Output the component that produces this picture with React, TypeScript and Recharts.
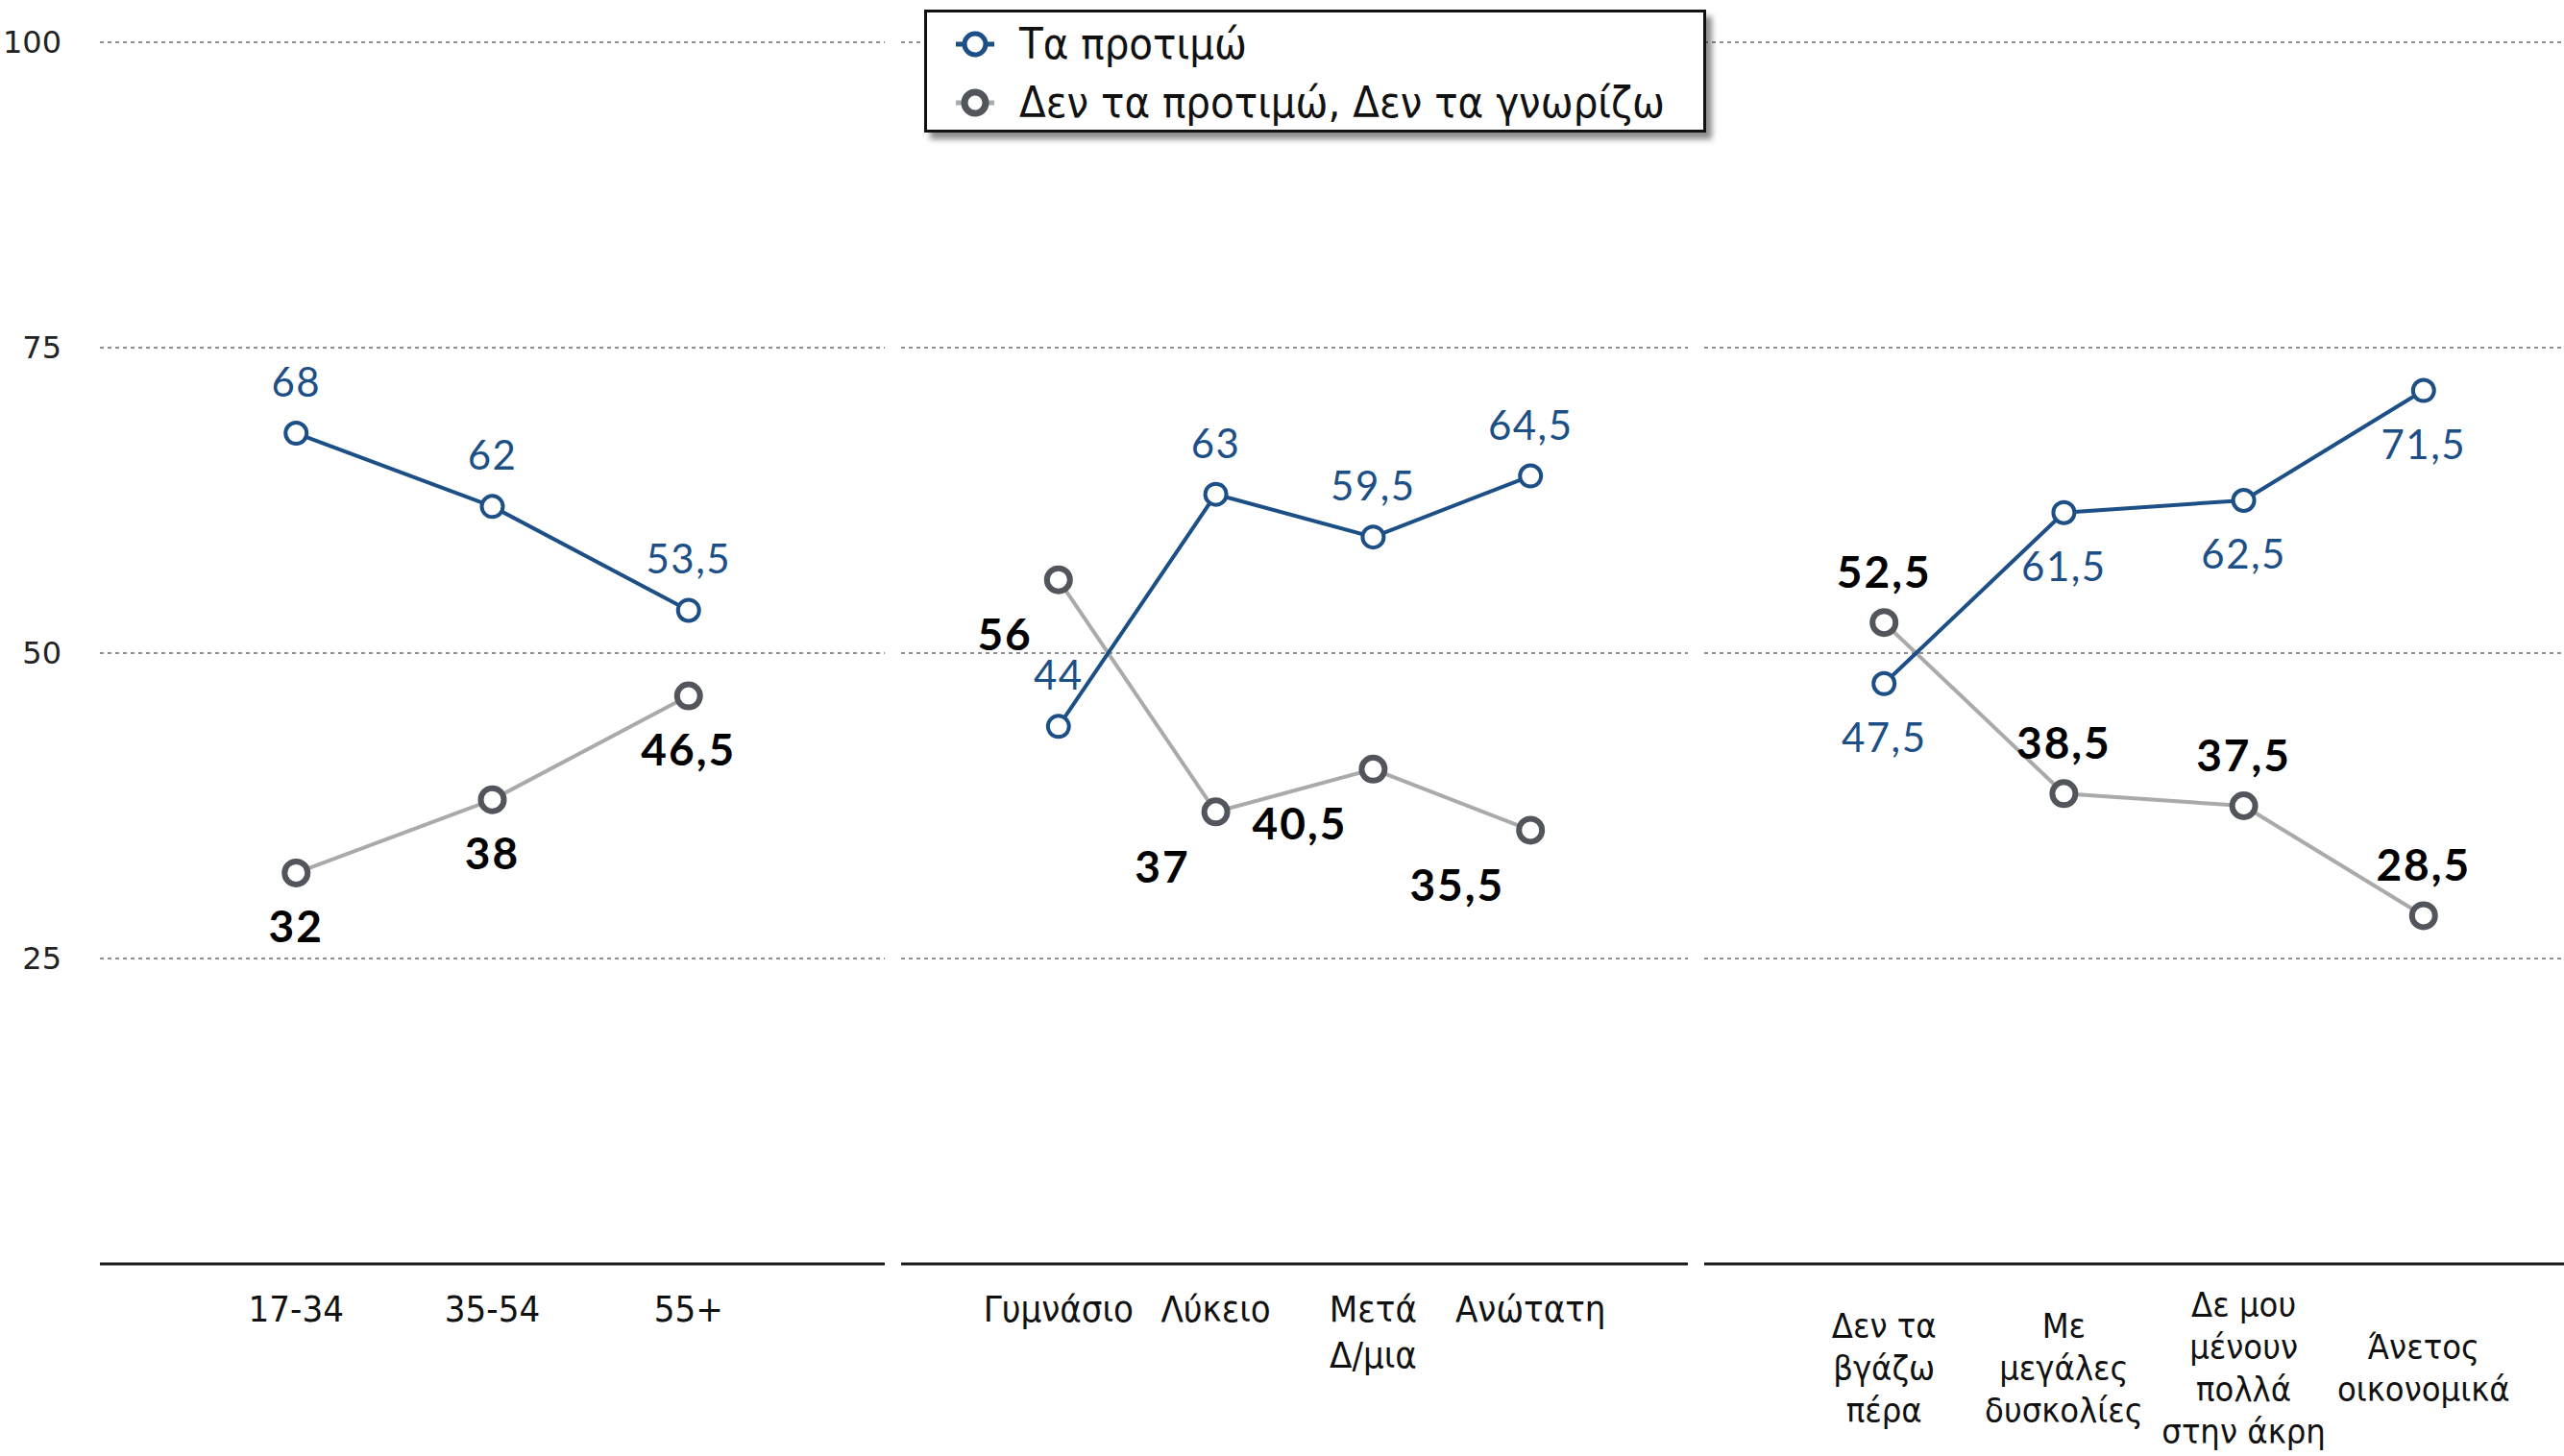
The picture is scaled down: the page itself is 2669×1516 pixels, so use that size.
import { LineChart, Line, XAxis, YAxis, CartesianGrid, LabelList } from 'recharts';

// Ηλικία
const ageCats = ['17-34', '35-54', '55+'];
const agePref = [68, 62, 53.5];
const ageNotPref = [32, 38, 46.5];

// Εκπαίδευση
const eduCats = ['Γυμνάσιο', 'Λύκειο', 'Μετά\nΔ/μια', 'Ανώτατη'];
const eduPref = [44, 63, 59.5, 64.5];
const eduNotPref = [56, 37, 40.5, 35.5];

// Οικονομική κατάσταση
const ecoCats = ['Δεν τα\nβγάζω\nπέρα', 'Με\nμεγάλες\nδυσκολίες', 'Δε μου\nμένουν\nπολλά\nστην άκρη', 'Άνετος\nοικονομικά'];
const ecoPref = [47.5, 61.5, 62.5, 71.5];
const ecoNotPref = [52.5, 38.5, 37.5, 28.5];

const yTicks = [25, 50, 75, 100];
const seriesNames = ['Τα προτιμώ', 'Δεν τα προτιμώ, Δεν τα γνωρίζω'];

const BLUE = '#1d4f87';
const GREY_LINE = '#a9abaa';
const GREY_DOT = '#52565c';
const TEXT_FONT = "'Liberation Sans Narrow', 'DejaVu Sans Condensed', 'Open Sans', sans-serif";
const NUM_FONT = "Lato, 'Open Sans', sans-serif";

const H = 1516;
const AXIS_Y = 1316;

const fmt = (v: number) => String(v).replace('.', ',');

const toRows = (cats: string[], a: number[], b: number[]) =>
  cats.map((c, i) => ({ cat: c, pref: a[i], notPref: b[i] }));

// ετικέτες τιμών
const makeLabel = (place: string, color: string, bold: boolean) => (props: any) => {
  const { x, y, value } = props;
  let tx = x, ty = y, anchor: any = 'middle';
  if (place === 'top') ty = y - 54;
  if (place === 'bottom') ty = y + 55;
  if (place === 'bottomLeft') { tx = x - 27; ty = y + 56; anchor = 'end'; }
  return (
    <text x={tx} y={ty} textAnchor={anchor} dominantBaseline="central"
      fontFamily={NUM_FONT} fontSize={bold ? 46 : 42} fontWeight={bold ? 700 : 400}
      letterSpacing={bold ? 2 : 1.5} fill={color}>
      {fmt(value)}
    </text>
  );
};

const makeTick = (centered: boolean) => (props: any) => {
  const { x, payload } = props;
  const lines = String(payload.value).split('\n');
  const lh = centered ? 44 : 48;
  const start = centered ? AXIS_Y + 108 - ((lines.length - 1) / 2) * lh : AXIS_Y + 47;
  return (
    <text x={x} textAnchor="middle" fontFamily={TEXT_FONT} fontSize={centered ? 36 : 38} fill="#111">
      {lines.map((l, i) => (
        <tspan key={i} x={x} y={start + i * lh} dominantBaseline="central">{l}</tspan>
      ))}
    </text>
  );
};

const YTick = (props: any) => {
  const { y, payload } = props;
  return (
    <text x={64} y={y} textAnchor="end" dominantBaseline="central" fontFamily="'DejaVu Sans', sans-serif" fontSize={32} fill="#222">
      {payload.value}
    </text>
  );
};

interface PanelProps {
  rows: any[];
  width: number;
  left: number;
  margin: { top: number; right: number; bottom: number; left: number };
  showY?: boolean;
  prefPlace: string;
  notPrefPlace: string;
  centeredTicks?: boolean;
}

function Panel({ rows, width, left, margin, showY, prefPlace, notPrefPlace, centeredTicks }: PanelProps) {
  const yw = showY ? 104 : 0;
  const plotW = width - margin.left - margin.right - yw;
  const pad = plotW / (rows.length + 1);
  return (
    <div style={{ position: 'absolute', left, top: 0 }}>
      <LineChart width={width} height={H} data={rows} margin={margin}>
        <CartesianGrid vertical={false} stroke="#8f8f8f" strokeWidth={2} strokeDasharray="4 4" />
        <XAxis dataKey="cat" height={H - AXIS_Y} padding={{ left: pad, right: pad }}
          axisLine={{ stroke: '#1a1a1a', strokeWidth: 3 }} tickLine={false} tickSize={0} tickMargin={0}
          interval={0} tick={makeTick(!!centeredTicks)} />
        <YAxis domain={[0, 100]} ticks={yTicks} width={yw} hide={!showY}
          axisLine={false} tickLine={false} tick={<YTick />} />
        <Line dataKey="notPref" name={seriesNames[1]} stroke={GREY_LINE} strokeWidth={4}
          dot={{ r: 12, stroke: GREY_DOT, strokeWidth: 6, fill: '#fff' }} isAnimationActive={false}>
          <LabelList dataKey="notPref" content={makeLabel(notPrefPlace, '#000', true)} />
        </Line>
        <Line dataKey="pref" name={seriesNames[0]} stroke={BLUE} strokeWidth={4}
          dot={{ r: 11, stroke: BLUE, strokeWidth: 4, fill: '#fff' }} isAnimationActive={false}>
          <LabelList dataKey="pref" content={makeLabel(prefPlace, BLUE, false)} />
        </Line>
      </LineChart>
    </div>
  );
}

function LegendBox() {
  const item = (i: number) => {
    const blue = i === 0;
    return (
      <div style={{ display: 'flex', alignItems: 'center', height: 61 }}>
        <svg width={44} height={32} style={{ marginRight: 24 }}>
          <line x1={2} y1={16} x2={42} y2={16} stroke={blue ? BLUE : GREY_LINE} strokeWidth={5} />
          <circle cx={22} cy={16} r={11} fill="#fff" stroke={blue ? BLUE : GREY_DOT} strokeWidth={blue ? 5 : 7} />
        </svg>
        <span style={{ fontFamily: TEXT_FONT, fontSize: 45, color: '#111', whiteSpace: 'nowrap' }}>{seriesNames[i]}</span>
      </div>
    );
  };
  return (
    <div style={{
      position: 'absolute', left: 962, top: 10, width: 780, height: 120, boxSizing: 'content-box',
      border: '3px solid #111', background: '#fff', boxShadow: '6px 7px 6px rgba(0,0,0,0.45)',
      paddingLeft: 28, paddingTop: 2,
    }}>
      {item(0)}
      {item(1)}
    </div>
  );
}

export default function App() {
  return (
    <div style={{ position: 'absolute', left: 0, top: 0, width: 2669, height: H, overflow: 'hidden', background: '#fff' }}>
      <Panel rows={toRows(ageCats, agePref, ageNotPref)} left={0} width={930}
        margin={{ top: 44, right: 9, bottom: 0, left: 0 }} showY prefPlace="top" notPrefPlace="bottom" />
      <Panel rows={toRows(eduCats, eduPref, eduNotPref)} left={930} width={835}
        margin={{ top: 44, right: 8, bottom: 0, left: 8 }} prefPlace="top" notPrefPlace="bottomLeft" />
      <Panel rows={toRows(ecoCats, ecoPref, ecoNotPref)} left={1765} width={945}
        margin={{ top: 44, right: 0, bottom: 0, left: 9 }} prefPlace="bottom" notPrefPlace="top" centeredTicks />
      <LegendBox />
    </div>
  );
}
